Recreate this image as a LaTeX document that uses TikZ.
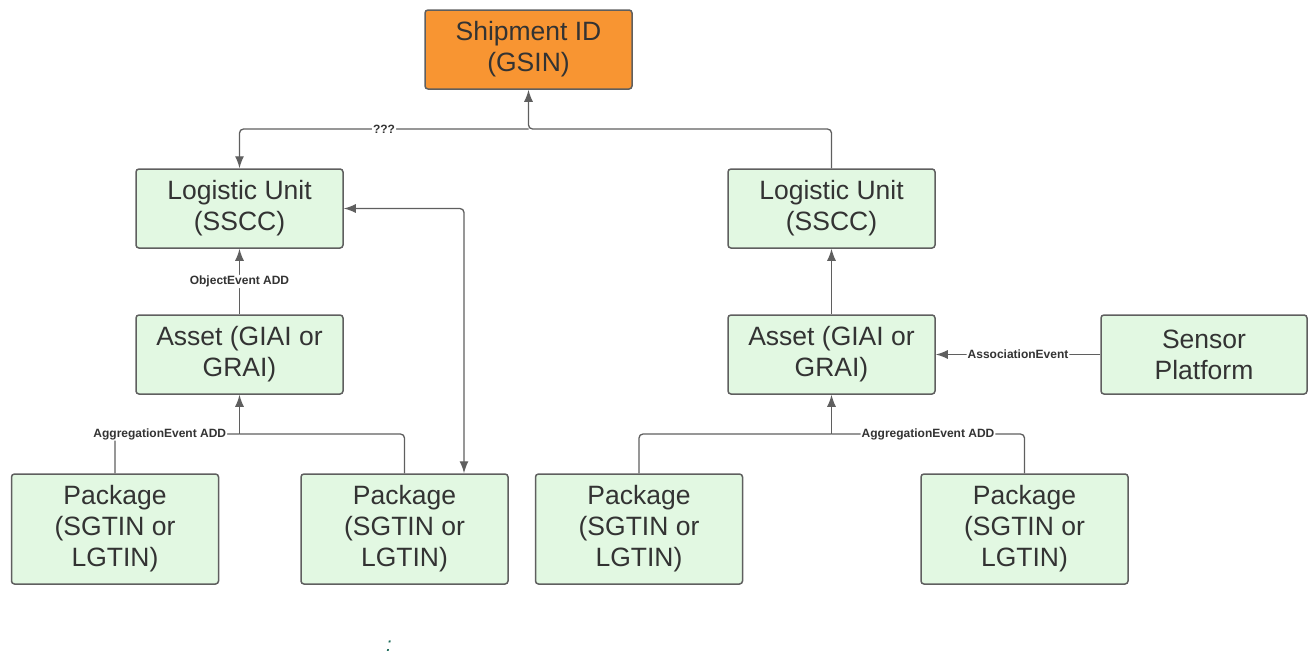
\documentclass[tikz,border=0pt]{standalone}
\usepackage{fontspec}
\setmainfont{Liberation Sans}
\usetikzlibrary{arrows.meta}

\begin{document}
\begin{tikzpicture}[x=1pt, y=-1pt,
    box/.style={draw=LineGray, line width=1.5pt, rounded corners=3pt, fill=Mint,
        minimum width=207pt, minimum height=79pt, align=center, inner sep=0pt,
        text=TextGray, font=\fontsize{26.5}{31}\selectfont},
    link/.style={draw=LineGray, line width=1.3pt, rounded corners=4pt},
    tip/.style={-{Latex[length=12pt,width=9pt]}},
    tag/.style={fill=white, inner sep=1pt, text=TextGray,
        font=\fontsize{12}{13}\selectfont\bfseries}]
    \definecolor{LineGray}{HTML}{5F5F5F}
    \definecolor{TextGray}{HTML}{333333}
    \definecolor{Mint}{HTML}{E2F8E2}
    \definecolor{Orange}{HTML}{F89532}
    \definecolor{Teal}{HTML}{1E6B5A}
    \useasboundingbox (0,0) rectangle (1311,653);
    \node[box, fill=Orange] (Ship) at (528.5,49.5) {Shipment ID\\(GSIN)};
    \node[box] (LUL) at (239.5,208.5) {Logistic Unit\\(SSCC)};
    \node[box] (LUR) at (831.5,208.5) {Logistic Unit\\(SSCC)};
    \node[box] (AssetL) at (239.5,354.5) {Asset (GIAI or\\GRAI)};
    \node[box] (AssetR) at (831.5,354.5) {Asset (GIAI or\\GRAI)};
    \node[box, minimum width=206pt] (Sensor) at (1204,354.5) {Sensor\\Platform};
    \foreach \name/\x in {PkgA/115, PkgB/404.5, PkgC/639, PkgD/1024.5}{
        \node[box, minimum height=110pt] (\name) at (\x,529) {Package\\(SGTIN or\\LGTIN)};
    }
    \coordinate (Top) at (528.5,129);
    \coordinate (MidL) at (239.5,434);
    \coordinate (MidR) at (831.5,434);
    \draw[link, tip] (LUR.north) |- (Top) -- (Ship.south);
    \draw[link, tip] (Top) -| node[tag, pos=0.25] {???} (LUL.north);
    \draw[link, tip] (AssetL.north) -- node[tag] {ObjectEvent ADD} (LUL.south);
    \draw[link, {Latex[length=12pt,width=9pt]}-{Latex[length=12pt,width=9pt]}]
        (LUL.east) -| ([xshift=59.5pt]PkgB.north);
    \draw[link] (PkgA.north) |- node[tag, pos=0.68] {AggregationEvent ADD} (MidL);
    \draw[link] (PkgB.north) |- (MidL);
    \draw[link, tip] (MidL) -- (AssetL.south);
    \draw[link, tip] (AssetR.north) -- (LUR.south);
    \draw[link, tip] (Sensor.west) -- node[tag] {AssociationEvent} (AssetR.east);
    \draw[link] (PkgC.north) |- (MidR);
    \draw[link] (PkgD.north) |- node[tag, pos=0.75] {AggregationEvent ADD} (MidR);
    \draw[link, tip] (MidR) -- (AssetR.south);
    \node[text=Teal, font=\fontsize{20}{24}\selectfont\itshape] (Colon) at (389,646) {:};
\end{tikzpicture}
\end{document}
